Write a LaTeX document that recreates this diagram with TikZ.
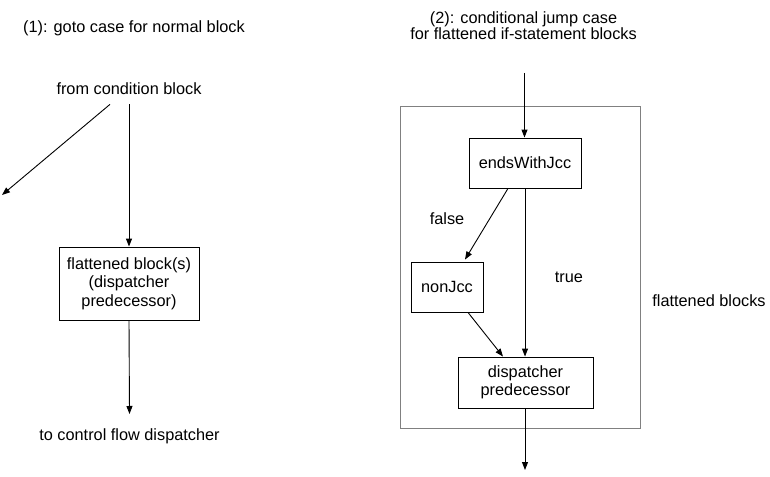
\documentclass[tikz,border=0pt]{standalone}
\usepackage{fontspec}
\setmainfont{Liberation Sans}
\usepackage{tikz}
\usetikzlibrary{positioning,calc}
\usetikzlibrary{arrows.meta}
\tikzset{
  bl/.style={rectangle, draw=black, line width=0.9pt, inner sep=0pt, align=center, text centered},
  lb/.style={anchor=base, inner sep=4pt, align=center},
  fr/.style={draw=black!50, line width=0.9pt},
  ar/.style={-{Triangle[length=8pt,width=6pt]}, line width=0.9pt}
}

\begin{document}
\begin{tikzpicture}[x=1pt, y=-1pt, font=\fontsize{16.3}{18.3}\selectfont]
	\useasboundingbox (0,0) rectangle (770,476);
	% left case
	\node[lb] (tleft) at (134,33) {(1): goto case for normal block};
	\node[lb, inner ysep=9pt] (from) at (129,95) {from condition block};
	\node[bl, minimum width=140pt, minimum height=73pt] (flat) at (129,283.5) {flattened block(s)\\(dispatcher\\predecessor)};
	\node[lb, inner ysep=14pt] (to) at (129.5,440) {to control flow dispatcher};
	\coordinate (away) at (2,195);
	
	\draw[ar] (from.south) -- (flat.north);
	\draw[ar] ($(from.south)+(-19,0)$) -- (away);
	\draw[ar] (flat.south) -- (to.north);
	
	% right case
	\node[lb, font=\fontsize{16.3}{15.5}\selectfont] (tright) at (523.5,39.5) {(2): conditional jump case\\for flattened if-statement blocks};
	\draw[fr] (400,106) rectangle (640,428);
	\node[lb] (fb) at (709,306.7) {flattened blocks};
	\node[bl, minimum width=112pt, minimum height=50pt] (ends) at (525,163) {endsWithJcc};
	\node[bl, minimum width=72pt, minimum height=50pt] (non) at (447,287) {nonJcc};
	\node[bl, minimum width=135pt, minimum height=51pt] (disp) at (525.5,382.5) {dispatcher\\predecessor};
	\node[lb] (false) at (447,224) {false};
	\node[lb] (true) at (569,282.7) {true};
	\coordinate (entry) at (524.5,73);
	\coordinate (exit) at (525,470);
	
	\draw[ar] (entry) -- (entry |- ends.north);
	\draw[ar] ($(ends.south)+(-17,0)$) -- ($(non.north)+(18,-2)$);
	\draw[ar] (ends.south) -- (ends.south |- disp.north);
	\draw[ar] ($(non.south)+(21,0)$) -- ($(disp.north)+(-22.5,0)$);
	\draw[ar] (disp.south -| exit) -- (exit);
	
\end{tikzpicture}
\end{document}
